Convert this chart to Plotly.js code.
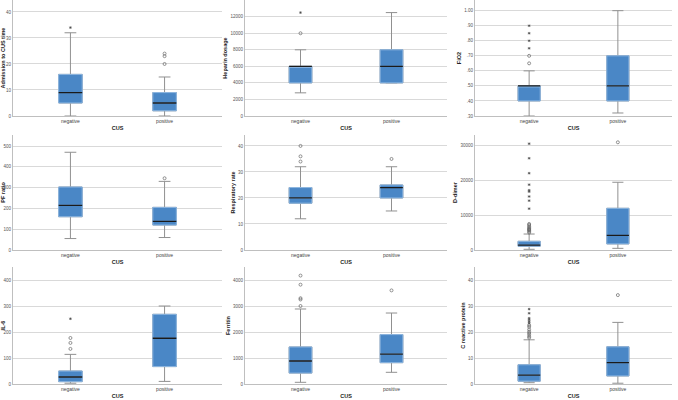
<!DOCTYPE html>
<html><head><meta charset="utf-8">
<script src="https://cdn.plot.ly/plotly-3.0.1.min.js"></script>
<style>html,body{margin:0;padding:0;background:#fff}#c{width:678px;height:400px}</style>
</head><body><div id="c"></div>
<script>
// categories
const groups = ['negative', 'positive'];
const panelTitles = ['Admission to CUS time','Heparin dosage','FiO2','PF ratio','Respiratory rate','D-dimer','IL-6','Ferritin','C reactive protein'];
// five-number stats per group: [lowerWhisker, Q1, median, Q3, upperWhisker]
const admNeg = [0, 5, 9, 16, 32],        admPos = [0, 2, 5, 9, 15];
const hepNeg = [2800, 4000, 6000, 6000, 8000], hepPos = [4000, 4000, 6000, 8000, 12500];
const fioNeg = [0.30, 0.40, 0.50, 0.50, 0.60], fioPos = [0.32, 0.40, 0.50, 0.70, 1.00];
const pfNeg  = [55, 160, 215, 303, 470], pfPos = [60, 120, 138, 205, 330];
const rrNeg  = [12, 18, 20, 24, 32],     rrPos = [15, 20, 24, 25, 32];
const ddNeg  = [200, 1100, 1400, 2500, 4600], ddPos = [480, 1750, 4200, 12000, 19500];
const ilNeg  = [3, 9, 27, 50, 114],      ilPos = [10, 67, 176, 268, 300];
const ferNeg = [65, 420, 885, 1425, 2885], ferPos = [450, 820, 1150, 1900, 2730];
const crpNeg = [0.5, 1.1, 3.4, 7.4, 17], crpPos = [0.3, 3.1, 8.2, 14.3, 23.7];
// outliers: mild (circle) and extreme (star)
const admNegMild = [], admNegExt = [34], admPosMild = [20, 23, 24], admPosExt = [];
const hepNegMild = [10000], hepNegExt = [12500], hepPosMild = [], hepPosExt = [];
const fioNegMild = [0.65, 0.70], fioNegExt = [0.75, 0.80, 0.85, 0.90], fioPosMild = [], fioPosExt = [];
const pfNegMild = [], pfNegExt = [], pfPosMild = [345], pfPosExt = [];
const rrNegMild = [34, 36, 40], rrNegExt = [], rrPosMild = [35], rrPosExt = [];
const ddNegMild = [5000, 5300, 5600, 5800, 6000, 6200, 6500, 6800, 7200, 7500], ddNegExt = [11900, 14200, 15400, 16800, 17200, 18800, 22100, 26400, 30600], ddPosMild = [31000], ddPosExt = [];
const ilNegMild = [135, 158, 177], ilNegExt = [251], ilPosMild = [], ilPosExt = [];
const ferNegMild = [3000, 3250, 3300, 3820, 4170], ferNegExt = [], ferPosMild = [3600], ferPosExt = [];
const crpNegMild = [17.8, 18.3, 19.0, 19.6, 20.2, 21.0, 22.0, 22.6], crpNegExt = [23.4, 24.0, 24.7, 25.3, 27.2, 28.8], crpPosMild = [34.2], crpPosExt = [];
// y-axis ticks
const admTicks = [0, 10, 20, 30, 40];
const hepTicks = [0, 2000, 4000, 6000, 8000, 10000, 12000];
const fioTicks = [0.30, 0.40, 0.50, 0.60, 0.70, 0.80, 0.90, 1.00];
const fioTickText = ['.30', '.40', '.50', '.60', '.70', '.80', '.90', '1.00'];
const pfTicks = [0, 100, 200, 300, 400, 500];
const rrTicks = [0, 10, 20, 30, 40];
const ddTicks = [0, 10000, 20000, 30000];
const ilTicks = [0, 100, 200, 300, 400];
const ferTicks = [0, 1000, 2000, 3000, 4000];
const crpTicks = [0, 10, 20, 30, 40];

const panels = [
  {neg: admNeg, pos: admPos, out: [admNegMild, admNegExt, admPosMild, admPosExt], ticks: admTicks, range: [0, 44.6]},
  {neg: hepNeg, pos: hepPos, out: [hepNegMild, hepNegExt, hepPosMild, hepPosExt], ticks: hepTicks, range: [0, 14020]},
  {neg: fioNeg, pos: fioPos, out: [fioNegMild, fioNegExt, fioPosMild, fioPosExt], ticks: fioTicks, text: fioTickText, range: [0.30, 1.071]},
  {neg: pfNeg, pos: pfPos, out: [pfNegMild, pfNegExt, pfPosMild, pfPosExt], ticks: pfTicks, range: [0, 553]},
  {neg: rrNeg, pos: rrPos, out: [rrNegMild, rrNegExt, rrPosMild, rrPosExt], ticks: rrTicks, range: [0, 44.2]},
  {neg: ddNeg, pos: ddPos, out: [ddNegMild, ddNegExt, ddPosMild, ddPosExt], ticks: ddTicks, range: [0, 33100]},
  {neg: ilNeg, pos: ilPos, out: [ilNegMild, ilNegExt, ilPosMild, ilPosExt], ticks: ilTicks, range: [0, 450]},
  {neg: ferNeg, pos: ferPos, out: [ferNegMild, ferNegExt, ferPosMild, ferPosExt], ticks: ferTicks, range: [0, 4500]},
  {neg: crpNeg, pos: crpPos, out: [crpNegMild, crpNegExt, crpPosMild, crpPosExt], ticks: crpTicks, range: [0, 45]}
];

const W = 678, H = 400;
const colPx = [[13, 222], [245, 447], [475, 672]];
const rowPx = [[0, 116], [135, 250], [267, 384]];
const BOXW = 0.25;
const fill = '#4a87c6', edge = '#8fb8e2', whisk = '#909090';
const font = 'Liberation Sans, Arial, sans-serif';

const data = [];
const layout = {
  width: W, height: H, margin: {l: 0, r: 0, t: 0, b: 0},
  paper_bgcolor: '#fff', plot_bgcolor: '#fff', showlegend: false,
  font: {family: font, color: '#333', size: 5}
};

panels.forEach((p, i) => {
  const n = i + 1;
  const xa = n === 1 ? 'x' : 'x' + n, ya = n === 1 ? 'y' : 'y' + n;
  const col = i % 3, row = Math.floor(i / 3);
  const st = (k) => [p.neg[k], p.pos[k]];
  // whiskers + box
  data.push({type: 'box', xaxis: xa, yaxis: ya, x: groups,
    lowerfence: st(0), q1: st(1), median: st(2), q3: st(3), upperfence: st(4),
    width: BOXW, whiskerwidth: 0.5, fillcolor: fill, line: {color: whisk, width: 1},
    boxpoints: false, hoverinfo: 'skip'});
  // box outline
  data.push({type: 'box', xaxis: xa, yaxis: ya, x: groups,
    lowerfence: st(1), q1: st(1), median: st(2), q3: st(3), upperfence: st(3),
    width: BOXW, whiskerwidth: 0, fillcolor: fill, line: {color: edge, width: 1},
    boxpoints: false, hoverinfo: 'skip'});
  // median
  data.push({type: 'box', xaxis: xa, yaxis: ya, x: groups,
    lowerfence: st(2), q1: st(2), median: st(2), q3: st(2), upperfence: st(2),
    width: BOXW, whiskerwidth: 0, fillcolor: 'rgba(0,0,0,0)', line: {color: '#1a1a1a', width: 1.3},
    boxpoints: false, hoverinfo: 'skip'});
  // outliers
  const [nm, ne, pm, pe] = p.out;
  data.push({type: 'scatter', mode: 'markers', xaxis: xa, yaxis: ya,
    x: nm.map(() => groups[0]).concat(pm.map(() => groups[1])), y: nm.concat(pm),
    marker: {symbol: 'circle-open', size: 3, color: '#666', line: {width: 0.7}}, hoverinfo: 'skip'});
  data.push({type: 'scatter', mode: 'markers', xaxis: xa, yaxis: ya,
    x: ne.map(() => groups[0]).concat(pe.map(() => groups[1])), y: ne.concat(pe),
    marker: {symbol: 'asterisk-open', size: 2.2, color: '#444', line: {width: 0.6, color: '#444'}}, hoverinfo: 'skip'});

  const xk = n === 1 ? 'xaxis' : 'xaxis' + n, yk = n === 1 ? 'yaxis' : 'yaxis' + n;
  layout[xk] = {
    domain: [colPx[col][0] / W, colPx[col][1] / W], anchor: ya,
    type: 'category', categoryorder: 'array', categoryarray: groups, range: [-0.61, 1.61],
    showline: true, linecolor: '#bfbfbf', linewidth: 1, showgrid: false, zeroline: false,
    ticks: '', tickfont: {size: 5, color: '#444', family: font}, ticklabelstandoff: 0,
    title: {text: '<b>CUS</b>', font: {size: 5.5, color: '#222', family: font}, standoff: 3},
    automargin: false, fixedrange: true
  };
  layout[yk] = {
    domain: [1 - rowPx[row][1] / H, 1 - rowPx[row][0] / H], anchor: xa,
    range: p.range, tickvals: p.ticks, ticktext: p.text || p.ticks.map(String),
    showline: true, linecolor: '#bfbfbf', linewidth: 1,
    showgrid: true, gridcolor: '#d9d9d9', gridwidth: 1, zeroline: false,
    ticks: '', tickfont: {size: 4.5, color: '#555', family: font},
    title: {text: '<b>' + panelTitles[i] + '</b>', font: {size: 5.5, color: '#222', family: font}, standoff: 2},
    automargin: false, fixedrange: true
  };
});

Plotly.newPlot('c', data, layout, {displayModeBar: false, staticPlot: true});
</script></body></html>
